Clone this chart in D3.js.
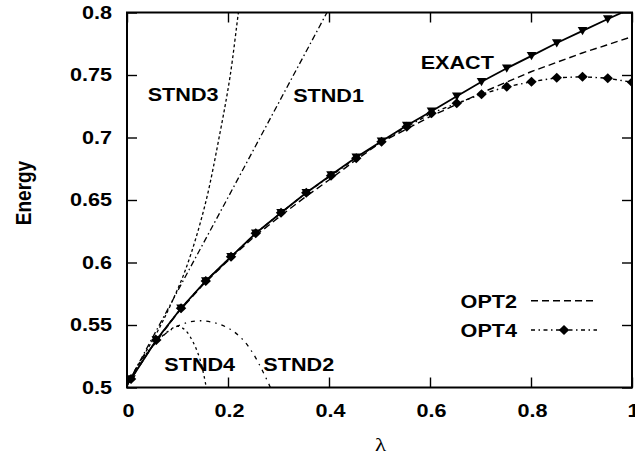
<!DOCTYPE html>
<html><head><meta charset="utf-8">
<script src="https://cdn.jsdelivr.net/npm/d3@7/dist/d3.min.js"></script>
<style>html,body{margin:0;padding:0;background:#fff;}</style>
</head><body><svg id="c" width="635" height="459"></svg>
<script>
// ---------- data ----------
const lamMarks = [0.008,0.058,0.107,0.156,0.206,0.255,0.305,0.355,0.404,0.454,0.504,0.554,0.603,0.653,0.702,0.752,0.801,0.851,0.902,0.952,1.0];
const exactE   = [0.5068,0.538,0.5634,0.5852,0.6046,0.6234,0.6398,0.6558,0.670,0.6842,0.697,0.7096,0.721,0.733,0.7446,0.7554,0.7653,0.7756,0.7853,0.7948,0.8035];
const opt4E    = [0.5068,0.538,0.5634,0.5852,0.6046,0.6234,0.6398,0.6558,0.6695,0.6835,0.6966,0.7086,0.7194,0.7274,0.7346,0.7406,0.7446,0.7478,0.7486,0.7474,0.7442];
const startLam = 0, startE = 0.502;

const lamOpt2 = [0,0.05,0.1,0.15,0.2,0.25,0.3,0.35,0.4,0.45,0.5,0.55,0.6,0.65,0.7,0.75,0.8,0.85,0.9,0.95,1.0];
const opt2E   = [0.502,0.533,0.5595,0.582,0.6015,0.620,0.636,0.6515,0.666,0.681,0.6954,0.706,0.7166,0.726,0.7354,0.744,0.7526,0.760,0.7674,0.774,0.7806];

const lamStnd1 = [0,0.2,0.4];
const stnd1E   = [0.502,0.652,0.803];
const lamStnd2 = [0,0.03,0.06,0.09,0.12,0.148,0.18,0.207,0.23,0.25,0.27,0.284];
const stnd2E   = [0.502,0.523,0.537,0.547,0.552,0.5534,0.551,0.546,0.538,0.527,0.512,0.500];
const lamStnd3 = [0,0.03,0.06,0.0885,0.118,0.1545,0.184,0.204,0.2204,0.225];
const stnd3E   = [0.502,0.5235,0.5445,0.568,0.5966,0.646,0.7034,0.7486,0.7994,0.813];
const lamStnd4 = [0,0.03,0.06,0.08,0.1,0.115,0.13,0.145,0.157];
const stnd4E   = [0.502,0.5225,0.537,0.5445,0.549,0.546,0.537,0.522,0.500];

const xTicks = [0,0.2,0.4,0.6,0.8,1];
const yTicks = [0.5,0.55,0.6,0.65,0.7,0.75,0.8];
const xTitle = "λ", yTitle = "Energy";
const legendNames = ["OPT2","OPT4"];
const curveLabels = [
  {t:"STND3", lam:0.041, e:0.7292},
  {t:"STND1", lam:0.329, e:0.7288},
  {t:"EXACT", lam:0.5816, e:0.7546},
  {t:"STND4", lam:0.0739, e:0.5136},
  {t:"STND2", lam:0.27,  e:0.5136}
];

// ---------- drawing ----------
const svg = d3.select("#c");
const L=127, R=632, T=12.5, B=387.5;
const x = d3.scaleLinear().domain([0,1]).range([L,R]);
const y = d3.scaleLinear().domain([0.5,0.8]).range([B,T]);
const SX = 1.2; // horizontal text stretch
const font = "'Liberation Sans', Arial, Helvetica, sans-serif";

svg.append("defs").append("clipPath").attr("id","clip")
  .append("rect").attr("x",L).attr("y",T).attr("width",R-L).attr("height",B-T);

// ticks (inward, mirrored)
const tk = 10;
const g = svg.append("g").attr("stroke","#000").attr("stroke-width",1.4);
g.append("g").attr("transform",`translate(0,${B})`).call(d3.axisBottom(x).tickValues(xTicks).tickSize(-tk).tickFormat(""));
g.append("g").attr("transform",`translate(0,${T})`).call(d3.axisTop(x).tickValues(xTicks).tickSize(-tk).tickFormat(""));
g.append("g").attr("transform",`translate(${L},0)`).call(d3.axisLeft(y).tickValues(yTicks).tickSize(-tk).tickFormat(""));
g.append("g").attr("transform",`translate(${R},0)`).call(d3.axisRight(y).tickValues(yTicks).tickSize(-tk).tickFormat(""));
svg.selectAll(".domain").remove();
svg.selectAll(".tick line").attr("stroke","#000").attr("stroke-width",1.4);

// frame
svg.append("rect").attr("x",L).attr("y",T).attr("width",R-L).attr("height",B-T)
  .attr("fill","none").attr("stroke","#000").attr("stroke-width",2);

function stext(px,py,str,anchor,opts={}){
  const t = svg.append("text")
    .attr("transform",`translate(${px},${py}) scale(${SX},1)` + (opts.rot?` rotate(${opts.rot})`:""))
    .attr("text-anchor",anchor)
    .attr("font-family",opts.family||font)
    .attr("font-weight",opts.weight||"bold")
    .attr("font-size",opts.size||18)
    .attr("fill","#000")
    .text(str);
  return t;
}

// tick labels
const fmt = d3.format("");
yTicks.forEach(v=>stext(112, y(v)+6.4, fmt(v), "end"));
xTicks.forEach(v=>stext(x(v)+1.5, 417, fmt(v), "middle"));

// axis titles
stext(31, 193, yTitle, "middle", {rot:-90, size:19});
stext((L+R)/2+1, 451, xTitle, "middle", {weight:"normal", family:"'Liberation Serif','Times New Roman',serif", size:19});

// lines
const plot = svg.append("g").attr("clip-path","url(#clip)");
const line = d3.line().x(d=>x(d[0])).y(d=>y(d[1]));
const smooth = d3.line().x(d=>x(d[0])).y(d=>y(d[1])).curve(d3.curveCatmullRom.alpha(0.5));
const zip = (a,b)=>a.map((v,i)=>[v,b[i]]);

function draw(pts, gen, dash, w){
  plot.append("path").attr("d",gen(pts)).attr("fill","none").attr("stroke","#000")
    .attr("stroke-width",w).attr("stroke-dasharray",dash);
}
draw(zip(lamStnd1,stnd1E), line, "6,3,1.5,3", 1.3);
draw(zip(lamStnd3,stnd3E), smooth, "3,2.5", 1.3);
draw(zip(lamStnd2,stnd2E), smooth, "4,5,1.5,5", 1.3);
draw(zip(lamStnd4,stnd4E), smooth, "2.5,3.5", 1.3);
draw(zip(lamOpt2,opt2E), line, "7,4", 1.4);
const exactPts = [[startLam,startE]].concat(zip(lamMarks,exactE));
const opt4Pts = [[startLam,startE]].concat(zip(lamMarks,opt4E));
draw(opt4Pts, line, "4,3.5,1.5,3.5", 1.4);
draw(exactPts, line, null, 1.8);

// markers
const tri = (cx,cy)=>`M${cx-4.8},${cy-3.8}L${cx+4.8},${cy-3.8}L${cx},${cy+4.4}Z`;
const dia = (cx,cy)=>`M${cx},${cy-5}L${cx+5.2},${cy}L${cx},${cy+5}L${cx-5.2},${cy}Z`;
plot.selectAll(".tri").data(zip(lamMarks,exactE)).enter().append("path")
  .attr("d",d=>tri(x(d[0]),y(d[1]))).attr("fill","#000");
plot.selectAll(".dia").data(zip(lamMarks,opt4E)).enter().append("path")
  .attr("d",d=>dia(x(d[0]),y(d[1]))).attr("fill","#000");

// curve labels
curveLabels.forEach(c=>stext(x(c.lam), y(c.e), c.t, "start"));

// legend
const legY = [300.7, 330];
legendNames.forEach((n,i)=>{
  stext(517, legY[i]+7, n, "end");
});
svg.append("line").attr("x1",531).attr("x2",596).attr("y1",legY[0]).attr("y2",legY[0])
  .attr("stroke","#000").attr("stroke-width",1.4).attr("stroke-dasharray","7,4");
svg.append("line").attr("x1",531).attr("x2",597).attr("y1",legY[1]).attr("y2",legY[1])
  .attr("stroke","#000").attr("stroke-width",1.4).attr("stroke-dasharray","4,3.5,1.5,3.5");
svg.append("path").attr("d",dia(564,legY[1])).attr("fill","#000");
</script></body></html>
